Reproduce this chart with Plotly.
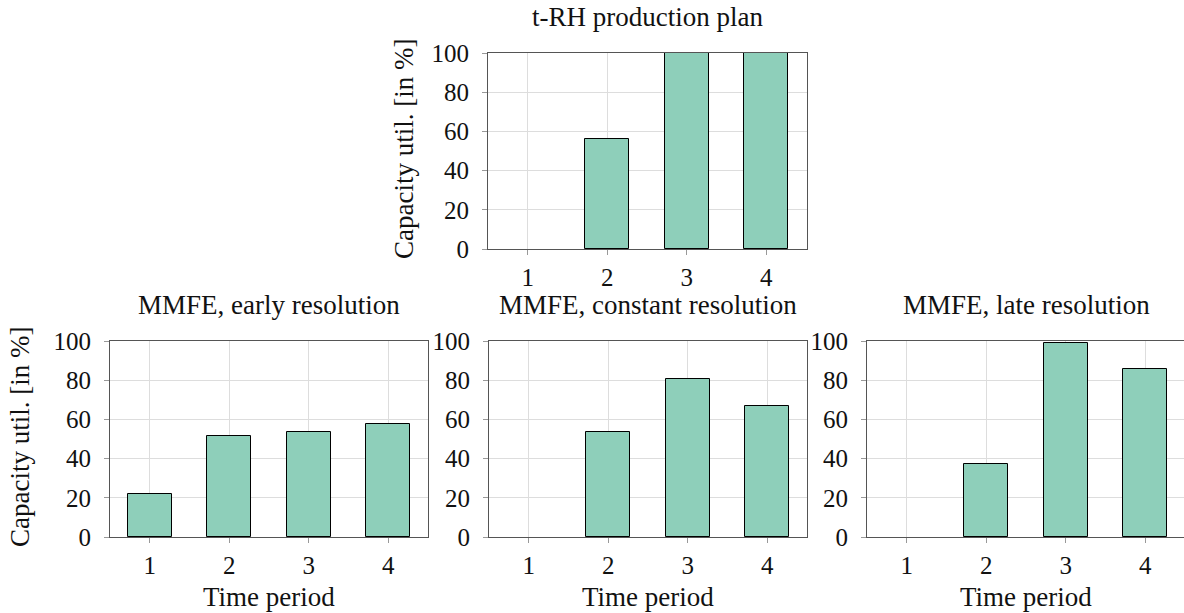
import plotly.graph_objects as go

# Time periods and capacity utilisation per planning approach (in %)
periods = [1, 2, 3, 4]
period_labels = ["1", "2", "3", "4"]
trh_plan = [0, 56, 100, 100]
mmfe_early = [22, 51.4, 53.4, 57.7]
mmfe_constant = [0, 53.4, 80.8, 66.8]
mmfe_late = [0, 37.1, 99.0, 85.9]

panel_titles = [
    "t-RH production plan",
    "MMFE, early resolution",
    "MMFE, constant resolution",
    "MMFE, late resolution",
]
y_ticks = [0, 20, 40, 60, 80, 100]
y_title = "Capacity util. [in %]"
x_title = "Time period"

W, H = 1184, 613
FONT = "Liberation Serif, DejaVu Serif, serif"
BAR_FILL = "#8ecfba"
FRAME = "#555555"
GRID = "#dddddd"
TEXT = "#111111"
TICK_SIZE = 25
LABEL_SIZE = 27

# panel boxes in pixels: (left, right, top, bottom)
boxes = [
    (488, 807, 53, 249),
    (110, 428, 341, 537),
    (489, 807, 341, 537),
    (867, 1184, 341, 537),
]
series = [trh_plan, mmfe_early, mmfe_constant, mmfe_late]
PANEL_W = 318

fig = go.Figure()
annotations = []

for i, (vals, (l, r, t, b), title) in enumerate(zip(series, boxes, panel_titles)):
    n = "" if i == 0 else str(i + 1)
    xa, ya = "x" + n, "y" + n
    fig.add_trace(go.Bar(
        x=periods, y=vals, width=0.55,
        marker=dict(
            color=BAR_FILL,
            line=dict(color="black", width=[1 if v > 0 else 0 for v in vals]),
        ),
        xaxis=xa, yaxis=ya, showlegend=False, hoverinfo="x+y",
    ))
    # the right-hand panel is cut off by the page edge
    xmax = 0.5 + 4.0 * (r - l) / PANEL_W
    axis_common = dict(
        showline=True, linecolor=FRAME, linewidth=1, mirror=True,
        showgrid=True, gridcolor=GRID, gridwidth=1,
        ticks="outside", tickcolor="#999999", ticklen=5,
        tickfont=dict(family=FONT, size=TICK_SIZE, color=TEXT),
        zeroline=False, fixedrange=True, automargin=False,
    )
    fig.layout["xaxis" + n] = dict(
        axis_common, domain=[l / W, min(r / W, 1.0)],
        range=[0.5, xmax], anchor=ya,
        tickmode="array", tickvals=periods, ticktext=period_labels,
        ticklabelstandoff=1,
    )
    fig.layout["yaxis" + n] = dict(
        axis_common, domain=[1 - b / H, 1 - t / H],
        range=[0, 100], anchor=xa,
        tickmode="array", tickvals=y_ticks,
        ticklabelstandoff=8,
    )
    cx = (l + PANEL_W / 2) / W
    annotations.append(dict(
        text=title, x=cx, y=1 - (t - 36) / H, xref="paper", yref="paper",
        xanchor="center", yanchor="middle", showarrow=False,
        font=dict(family=FONT, size=LABEL_SIZE, color=TEXT),
    ))
    if i > 0:
        annotations.append(dict(
            text=x_title, x=cx, y=1 - 597 / H, xref="paper", yref="paper",
            xanchor="center", yanchor="middle", showarrow=False,
            font=dict(family=FONT, size=LABEL_SIZE, color=TEXT),
        ))

# y-axis titles for the top panel and the bottom-left panel
for (l, r, t, b), xpix in [(boxes[0], 404), (boxes[1], 20)]:
    annotations.append(dict(
        text=y_title, x=xpix / W, y=1 - ((t + b) / 2 - 2) / H,
        xref="paper", yref="paper", xanchor="center", yanchor="middle",
        textangle=-90, showarrow=False,
        font=dict(family=FONT, size=LABEL_SIZE, color=TEXT),
    ))

fig.update_layout(
    width=W, height=H,
    margin=dict(l=0, r=0, t=0, b=0, autoexpand=False),
    paper_bgcolor="white", plot_bgcolor="white",
    annotations=annotations,
    bargap=0,
)

fig.write_html("out.html", config={"displayModeBar": False})
